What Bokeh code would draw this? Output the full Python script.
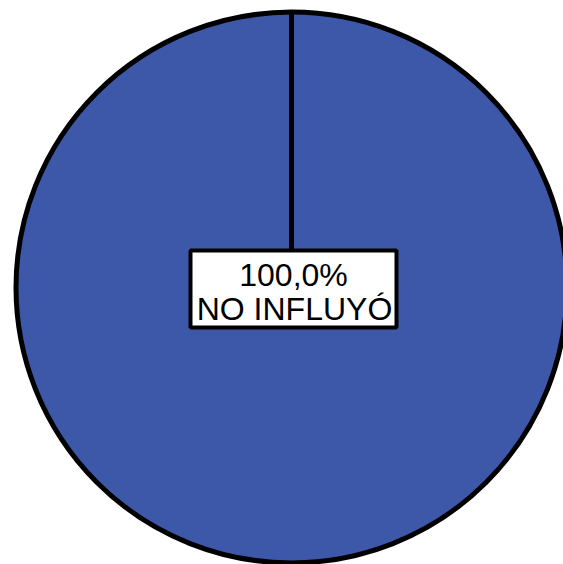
import math
from bokeh.plotting import figure
from bokeh.models import Range1d
from bokeh.core.properties import value
from bokeh.embed import file_html
from bokeh.resources import INLINE

# Data
categories = ["NO INFLUYÓ"]
percentages = [100.0]
colors = ["#3E58A9"]

W, H = 563, 564
p = figure(width=W, height=H, output_backend="svg", toolbar_location=None,
           x_range=Range1d(0, W), y_range=Range1d(H, 0),
           min_border=0, outline_line_color=None)
p.axis.visible = False
p.grid.visible = False
p.background_fill_color = "white"
p.border_fill_color = "white"

cx, cy, r = 291, 287, 275.5

total = sum(percentages)
start = math.pi / 2
for cat, pct, col in zip(categories, percentages, colors):
    span = 2 * math.pi * pct / total
    if span >= 2 * math.pi - 1e-9:
        p.scatter(x=[cx], y=[cy], size=2 * r, fill_color=col, line_color="black",
                  line_width=5, marker="circle")
    else:
        p.wedge(x=[cx], y=[cy], radius=r, start_angle=-start, end_angle=-(start + span),
                fill_color=col, line_color="black", line_width=5)
    # boundary line of the slice (screen y is inverted)
    ex = cx + r * math.cos(start)
    ey = cy - r * math.sin(start)
    p.segment(x0=[cx], y0=[cy], x1=[ex], y1=[ey], line_color="black", line_width=5)
    start += span

# Label box
lab1 = f"{percentages[0]:.1f}".replace(".", ",") + "%"
lab2 = categories[0]
p.quad(left=[190], right=[396], top=[250], bottom=[327], fill_color="white",
       line_color="black", line_width=4)
p.text(x=[293], y=[274], text=[lab1], text_align="center", text_baseline="middle",
       text_font=value("Liberation Sans"), text_font_size="32px", text_color="black")
p.text(x=[294], y=[308], text=[lab2], text_align="center", text_baseline="middle",
       text_font=value("Liberation Sans"), text_font_size="32px", text_color="black")

open("out.html", "w").write(file_html(p, INLINE))
